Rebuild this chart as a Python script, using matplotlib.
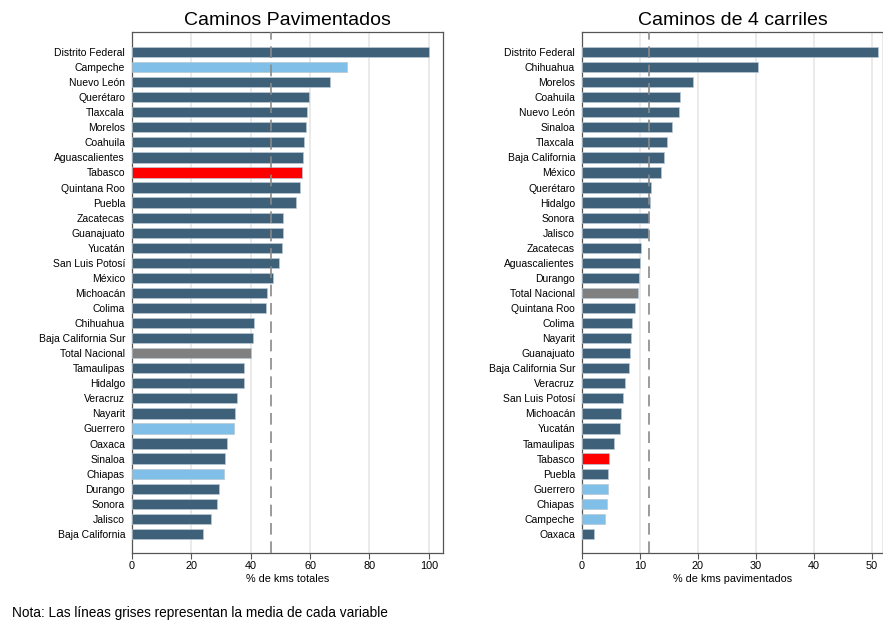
import matplotlib
matplotlib.use("Agg")
import matplotlib.pyplot as plt

plt.rcParams['font.family'] = ['Liberation Sans', 'DejaVu Sans']

# Caminos pavimentados (% de kms totales)
estados_pav = ["Distrito Federal", "Campeche", "Nuevo León", "Querétaro", "Tlaxcala",
               "Morelos", "Coahuila", "Aguascalientes", "Tabasco", "Quintana Roo",
               "Puebla", "Zacatecas", "Guanajuato", "Yucatán", "San Luis Potosí",
               "México", "Michoacán", "Colima", "Chihuahua", "Baja California Sur",
               "Total Nacional", "Tamaulipas", "Hidalgo", "Veracruz", "Nayarit",
               "Guerrero", "Oaxaca", "Sinaloa", "Chiapas", "Durango", "Sonora",
               "Jalisco", "Baja California"]
valores_pav = [100.0, 72.4, 66.7, 59.5, 59.1, 58.6, 58.0, 57.7, 57.2, 56.7,
               55.2, 51.0, 50.8, 50.6, 49.4, 47.6, 45.4, 45.2, 41.1, 40.9,
               40.1, 37.9, 37.9, 35.5, 34.7, 34.5, 31.9, 31.3, 31.1, 29.2, 28.7,
               26.6, 24.0]
media_pav = 46.8

# Caminos de 4 carriles (% de kms pavimentados)
estados_4c = ["Distrito Federal", "Chihuahua", "Morelos", "Coahuila", "Nuevo León",
              "Sinaloa", "Tlaxcala", "Baja California", "México", "Querétaro",
              "Hidalgo", "Sonora", "Jalisco", "Zacatecas", "Aguascalientes",
              "Durango", "Total Nacional", "Quintana Roo", "Colima", "Nayarit",
              "Guanajuato", "Baja California Sur", "Veracruz", "San Luis Potosí",
              "Michoacán", "Yucatán", "Tamaulipas", "Tabasco", "Puebla", "Guerrero",
              "Chiapas", "Campeche", "Oaxaca"]
valores_4c = [51.1, 30.3, 19.2, 16.9, 16.7, 15.6, 14.7, 14.1, 13.7, 11.9,
              11.7, 11.6, 11.3, 10.2, 10.0, 9.8, 9.7, 9.1, 8.7, 8.4,
              8.3, 8.1, 7.5, 7.1, 6.8, 6.6, 5.6, 4.7, 4.5, 4.5,
              4.3, 4.0, 2.0]
media_4c = 11.5

rojo = ["Tabasco"]
gris = ["Total Nacional"]
celeste = ["Campeche", "Guerrero", "Chiapas"]


def color_de(e):
    if e in rojo:
        return "#ff0000"
    if e in gris:
        return "#808080"
    if e in celeste:
        return "#7fbfe8"
    return "#3e6079"


def panel(ax, estados, valores, media, titulo, xlabel, ticks, xmax):
    n = len(estados)
    pos = list(range(n))
    ax.barh(pos, valores, height=0.68, color=[color_de(e) for e in estados],
            edgecolor="#b8c8d4", linewidth=0.5, zorder=3)
    ax.set_yticks(pos)
    ax.set_yticklabels(estados, fontsize=7.5)
    ax.set_ylim(n - 1 + 1.27, -1.33)
    ax.set_xlim(0, xmax)
    ax.set_xticks(ticks)
    ax.tick_params(axis="x", labelsize=7.8, length=4, color="#555555", pad=2)
    ax.tick_params(axis="y", length=0, pad=5)
    ax.grid(axis="x", color="#e6e6e6", linewidth=1.2, zorder=0)
    ax.axvline(media, color="#8a8a8a", linewidth=1.2, dashes=(7, 4), zorder=4)
    for s in ax.spines.values():
        s.set_color("#555555")
        s.set_linewidth(0.9)
    ax.set_title(titulo, fontsize=14, pad=5)
    ax.set_xlabel(xlabel, fontsize=7.8, labelpad=2)


fig = plt.figure(figsize=(8.83, 6.22), dpi=100)
ax1 = fig.add_axes([132 / 883, 1 - 553 / 622, (443 - 132) / 883, (553 - 32) / 622])
ax2 = fig.add_axes([582 / 883, 1 - 553 / 622, (883 - 582) / 883, (553 - 32) / 622])

panel(ax1, estados_pav, valores_pav, media_pav, "Caminos Pavimentados",
      "% de kms totales", [0, 20, 40, 60, 80, 100], 104.8)
panel(ax2, estados_4c, valores_4c, media_4c, "Caminos de 4 carriles",
      "% de kms pavimentados", [0, 10, 20, 30, 40, 50], 51.9)

fig.text(12 / 883, 1 - 617 / 622, "Nota: Las líneas grises representan la media de cada variable",
         fontsize=9.8, va="baseline")

fig.savefig("out.png", dpi=100)
